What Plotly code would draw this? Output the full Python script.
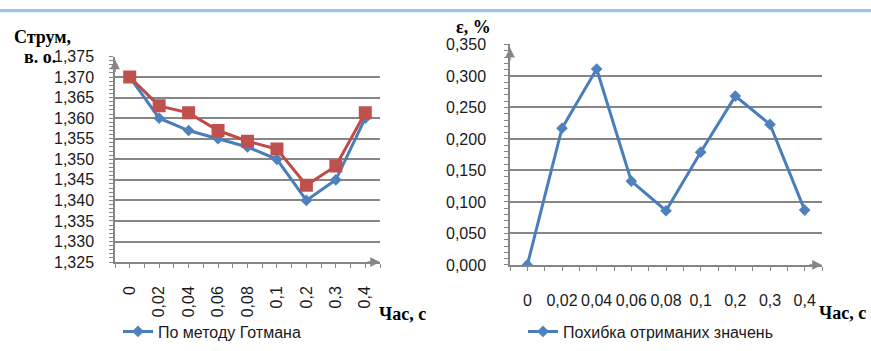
import plotly.graph_objects as go

# Time points (s) shown as category labels
times = ["0", "0,02", "0,04", "0,06", "0,08", "0,1", "0,2", "0,3", "0,4"]

# Current, p.u.
current_gotman = [1.370, 1.360, 1.357, 1.355, 1.353, 1.350, 1.340, 1.345, 1.360]
current_other = [1.370, 1.363, 1.3613, 1.357, 1.3544, 1.3525, 1.3437, 1.3484, 1.3613]

# Relative error, %
error_pct = [0.000, 0.217, 0.311, 0.133, 0.086, 0.179, 0.268, 0.223, 0.087]

BLUE_LINE = "#4A7EBB"
BLUE_FILL = "#4F81BD"
RED_LINE = "#BE4B48"
RED_FILL = "#C0504D"
GRID = "#868686"
AXIS = "#868686"
TXT = "#1a1a1a"
FONT = "Liberation Sans"
SERIF = "Liberation Serif"

pos = list(range(len(times)))
bounds = [i - 0.5 for i in range(len(times) + 1)]

fig = go.Figure()

fig.add_trace(go.Scatter(
    x=pos, y=current_gotman, mode="lines+markers", name="По методу Готмана",
    line=dict(color=BLUE_LINE, width=3),
    marker=dict(symbol="diamond", size=9, color=BLUE_FILL, line=dict(width=0)),
    xaxis="x", yaxis="y", legend="legend",
))
fig.add_trace(go.Scatter(
    x=pos, y=current_other, mode="lines+markers", name="Розрахунок",
    line=dict(color=RED_LINE, width=3),
    marker=dict(symbol="square", size=13, color=RED_FILL, line=dict(width=0)),
    xaxis="x", yaxis="y", showlegend=False,
))
fig.add_trace(go.Scatter(
    x=pos, y=error_pct, mode="lines+markers", name="Похибка отриманих значень",
    line=dict(color=BLUE_LINE, width=3),
    marker=dict(symbol="diamond", size=9, color=BLUE_FILL, line=dict(width=0)),
    xaxis="x2", yaxis="y2", legend="legend2",
))

W, H = 871, 351


def px_x(v):
    return v / W


def px_y(v):
    return 1 - v / H


tickfont = dict(family=FONT, size=16, color=TXT)

common_x = dict(
    range=[-0.5, len(times) - 0.5], tickmode="array", tickvals=pos, ticktext=times,
    showgrid=False, zeroline=False, showline=True, linecolor=AXIS, linewidth=1.5,
    ticks="outside", ticklen=4, tickcolor=AXIS, tickwidth=1,
    minor=dict(tickmode="array", tickvals=bounds, ticks="outside", ticklen=4,
               tickcolor=AXIS, tickwidth=1, showgrid=False),
    tickfont=tickfont, fixedrange=True,
)

fig.update_layout(
    width=W, height=H, margin=dict(l=0, r=0, t=0, b=0),
    paper_bgcolor="white", plot_bgcolor="white",
    xaxis=dict(common_x, domain=[px_x(115), px_x(380)], anchor="y",
               tickangle=-90, ticklabelstandoff=12),
    yaxis=dict(domain=[px_y(267), px_y(51)], anchor="x", range=[1.325, 1.375],
               dtick=0.005, tickformat=".3f",
               showgrid=True, gridcolor=GRID, gridwidth=1.5, zeroline=False,
               showline=True, linecolor=AXIS, linewidth=1.5,
               ticks="outside", ticklen=4, tickcolor=AXIS,
               minor=dict(dtick=0.001, ticks="outside", ticklen=4,
                          tickcolor=AXIS, showgrid=False),
               ticklabelstandoff=12, tickfont=tickfont, fixedrange=True),
    xaxis2=dict(common_x, domain=[px_x(510), px_x(822)], anchor="y2",
                tickangle=0, ticklabelstandoff=16),
    yaxis2=dict(domain=[px_y(270), px_y(38.3)], anchor="x2", range=[0, 0.35],
                dtick=0.05, tickformat=".3f",
                showgrid=True, gridcolor=GRID, gridwidth=1.5, zeroline=False,
                showline=True, linecolor=AXIS, linewidth=1.5,
                ticks="outside", ticklen=4, tickcolor=AXIS,
                minor=dict(dtick=0.01, ticks="outside", ticklen=4,
                           tickcolor=AXIS, showgrid=False),
                ticklabelstandoff=15, tickfont=tickfont, fixedrange=True),
    separators=", ",
    legend=dict(x=px_x(118), y=px_y(340), xanchor="left", yanchor="middle",
                font=dict(family=FONT, size=16, color=TXT),
                bgcolor="rgba(0,0,0,0)", borderwidth=0),
    legend2=dict(x=px_x(523), y=px_y(340), xanchor="left", yanchor="middle",
                 font=dict(family=FONT, size=16, color=TXT),
                 bgcolor="rgba(0,0,0,0)", borderwidth=0),
    showlegend=True,
)

# Inward halves of the ticks so they cross the axis lines
for name, ov, anc, rng, extra in [
    ("xaxis3", "x", "y", [-0.5, len(times) - 0.5], dict(tickvals=pos + bounds, tickmode="array")),
    ("yaxis3", "y", "x", [1.325, 1.375], dict(dtick=0.001)),
    ("xaxis4", "x2", "y2", [-0.5, len(times) - 0.5], dict(tickvals=pos + bounds, tickmode="array")),
    ("yaxis4", "y2", "x2", [0, 0.35], dict(dtick=0.01)),
]:
    fig.layout[name] = dict(
        overlaying=ov, anchor=anc, range=rng, ticks="inside", ticklen=4,
        tickcolor=AXIS, tickwidth=1, showticklabels=False, showgrid=False,
        zeroline=False, showline=False, fixedrange=True,
        side="bottom" if name.startswith("x") else "left", **extra,
    )

# Axis arrows
arrow = dict(text="", showarrow=True, arrowhead=2, arrowsize=1.3, arrowwidth=1.5,
             arrowcolor=AXIS, axref="pixel", ayref="pixel")
for xr, yr in [("x", "y"), ("x2", "y2")]:
    fig.add_annotation(arrow, xref=f"{xr} domain", yref=f"{yr} domain",
                       x=0, y=0.985, ax=0, ay=14)
    fig.add_annotation(arrow, xref=f"{xr} domain", yref=f"{yr} domain",
                       x=1.0, y=0, ax=-14, ay=0)

# Axis titles
title_font = dict(family=SERIF, size=18, color="black")
titles = [
    ("<b>Струм,</b>", 12, 31, "left"),
    ("<b>в. о.</b>", 58, 52, "right"),
    ("<b>Час, с</b>", 377, 322, "left"),
    ("<b>ε, %</b>", 454, 20, "left"),
    ("<b>Час, с</b>", 817, 321, "left"),
]
for txt, x0, yc, anchor in titles:
    fig.add_annotation(text=txt, xref="paper", yref="paper", x=px_x(x0), y=px_y(yc),
                       xanchor=anchor, yanchor="middle", showarrow=False, font=title_font)

# Thin band along the top edge of the page
fig.add_shape(type="rect", xref="paper", yref="paper", x0=0, x1=1,
              y0=px_y(4.5), y1=px_y(1), fillcolor="#A3C1E6", line=dict(width=0), layer="below")

fig.write_html("out.html")
